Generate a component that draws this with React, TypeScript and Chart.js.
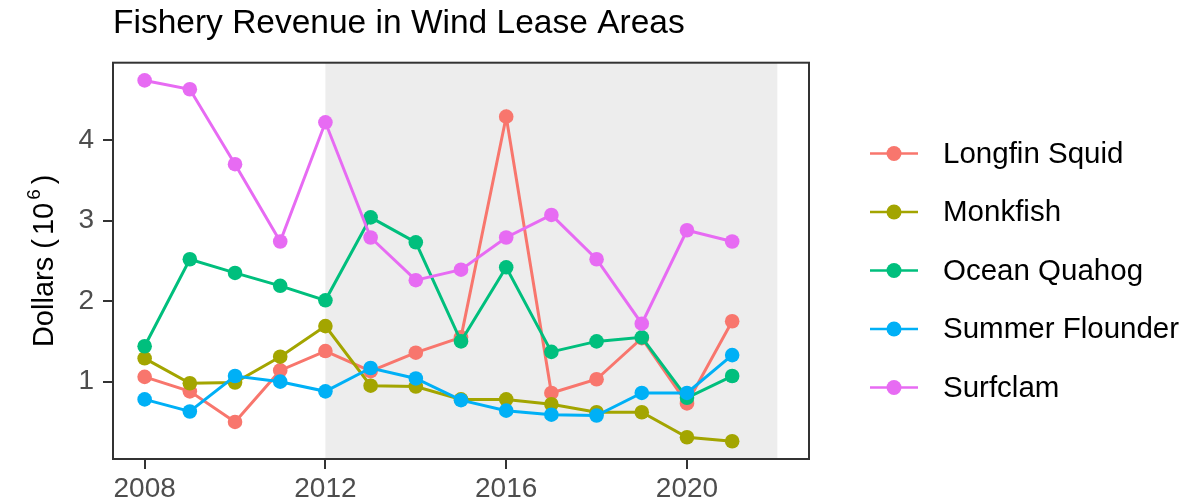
import { useEffect, useRef } from "react"
import { Chart, registerables } from "chart.js"

Chart.register(...registerables)

// Revenue in millions of dollars, one value per year
const years = [2008, 2009, 2010, 2011, 2012, 2013, 2014, 2015, 2016, 2017, 2018, 2019, 2020, 2021]
const species = ["Longfin Squid", "Monkfish", "Ocean Quahog", "Summer Flounder", "Surfclam"]
const longfinSquid = [1.06, 0.88, 0.5, 1.14, 1.38, 1.13, 1.36, 1.55, 4.29, 0.86, 1.03, 1.54, 0.73, 1.75]
const monkfish = [1.29, 0.98, 0.99, 1.31, 1.69, 0.95, 0.94, 0.78, 0.78, 0.72, 0.62, 0.62, 0.31, 0.26]
const oceanQuahog = [1.44, 2.52, 2.35, 2.19, 2.01, 3.04, 2.73, 1.5, 2.42, 1.37, 1.5, 1.55, 0.8, 1.07]
const summerFlounder = [0.78, 0.63, 1.07, 1.0, 0.88, 1.17, 1.04, 0.77, 0.64, 0.59, 0.58, 0.86, 0.86, 1.33]
const surfclam = [4.74, 4.63, 3.7, 2.74, 4.22, 2.79, 2.26, 2.39, 2.79, 3.07, 2.52, 1.72, 2.88, 2.74]
const xTicks = [2008, 2012, 2016, 2020]
const yTicks = [1, 2, 3, 4]
const leaseStart = 2012
const leaseEnd = 2022

const colors = ["#F8766D", "#A3A500", "#00BF7D", "#00B0F6", "#E76BF3"]
const FONT = "'Liberation Sans', Arial, Helvetica, sans-serif"

// grey band for lease period + panel border
const panelPlugin = {
  id: "panel",
  beforeDatasetsDraw(chart: any) {
    const { ctx, chartArea, scales } = chart
    const x0 = scales.x.getPixelForValue(leaseStart)
    const x1 = scales.x.getPixelForValue(leaseEnd)
    ctx.save()
    ctx.fillStyle = "#EDEDED"
    ctx.fillRect(x0, chartArea.top, x1 - x0, chartArea.bottom - chartArea.top)
    ctx.restore()
  },
  afterDatasetsDraw(chart: any) {
    const { ctx, chartArea } = chart
    ctx.save()
    ctx.strokeStyle = "#333333"
    ctx.lineWidth = 2
    ctx.strokeRect(chartArea.left, chartArea.top, chartArea.right - chartArea.left, chartArea.bottom - chartArea.top)
    ctx.restore()
  },
}

// y title with a real superscript, and a ggplot-like legend on the right
const sidePlugin = {
  id: "side",
  afterDraw(chart: any) {
    const { ctx, chartArea } = chart
    ctx.save()

    // Dollars (10^6)
    const main = `29px ${FONT}`
    const sup = `19px ${FONT}`
    const parts = [
      { text: "Dollars (", font: main, gap: 0, rise: 0 },
      { text: "10", font: main, gap: 4, rise: 0 },
      { text: "6", font: sup, gap: 3, rise: 13 },
      { text: ")", font: main, gap: 5, rise: 0 },
    ]
    let total = 0
    parts.forEach((p) => {
      ctx.font = p.font
      total += p.gap + ctx.measureText(p.text).width
    })
    ctx.translate(53, (chartArea.top + chartArea.bottom) / 2)
    ctx.rotate(-Math.PI / 2)
    ctx.fillStyle = "#000000"
    ctx.textAlign = "left"
    ctx.textBaseline = "alphabetic"
    let pos = -total / 2
    parts.forEach((p) => {
      ctx.font = p.font
      pos += p.gap
      ctx.fillText(p.text, pos, -p.rise)
      pos += ctx.measureText(p.text).width
    })
    ctx.setTransform(1, 0, 0, 1, 0, 0)
    ctx.restore()

    ctx.save()
    ctx.font = `29.5px ${FONT}`
    chart.data.datasets.forEach((ds: any, i: number) => {
      const y = 153.5 + i * 58.5
      ctx.strokeStyle = ds.borderColor
      ctx.lineWidth = 2.5
      ctx.beginPath()
      ctx.moveTo(870, y)
      ctx.lineTo(918, y)
      ctx.stroke()
      ctx.fillStyle = ds.borderColor
      ctx.beginPath()
      ctx.arc(894, y, 7.5, 0, Math.PI * 2)
      ctx.fill()
      ctx.fillStyle = "#000000"
      ctx.textBaseline = "middle"
      ctx.fillText(ds.label, 943, y + 1)
    })
    ctx.restore()
  },
}

export default function App() {
  const chartRef = useRef<HTMLCanvasElement>(null)
  const chartInstance = useRef<Chart | null>(null)

  useEffect(() => {
    if (!chartRef.current) return
    if (chartInstance.current) chartInstance.current.destroy()

    const series = [longfinSquid, monkfish, oceanQuahog, summerFlounder, surfclam]
    const datasets = species.map((name, i) => ({
      label: name,
      data: years.map((yr, j) => ({ x: yr, y: series[i][j] })),
      borderColor: colors[i],
      backgroundColor: colors[i],
      pointBackgroundColor: colors[i],
      pointBorderWidth: 0,
      pointRadius: 7.3,
      borderWidth: 3,
      order: species.length - i,
    }))

    chartInstance.current = new Chart(chartRef.current, {
      type: "line",
      data: { datasets },
      options: {
        responsive: true,
        maintainAspectRatio: false,
        animation: false,
        layout: { padding: { top: 0, right: 385, left: 0, bottom: 0 } },
        plugins: {
          legend: { display: false },
          title: {
            display: true,
            text: "Fishery Revenue in Wind Lease Areas",
            align: "start",
            fullSize: false,
            color: "#000000",
            font: { family: FONT, size: 33.5, weight: "normal" },
            padding: { top: 4, bottom: 18.5 },
          },
          tooltip: { enabled: false },
        },
        scales: {
          x: {
            type: "linear",
            min: 2007.3,
            max: 2022.7,
            afterBuildTicks: (scale: any) => {
              scale.ticks = xTicks.map((v) => ({ value: v }))
            },
            afterFit: (scale: any) => {
              scale.height = 43
            },
            grid: { drawOnChartArea: false, drawTicks: true, tickLength: 10, color: "#333333", lineWidth: 2 },
            border: { display: false },
            ticks: {
              padding: 3,
              color: "#4D4D4D",
              font: { family: FONT, size: 28 },
              callback: (v: any) => String(v),
            },
          },
          y: {
            type: "linear",
            min: 0.04,
            max: 4.96,
            afterBuildTicks: (scale: any) => {
              scale.ticks = yTicks.map((v) => ({ value: v }))
            },
            afterFit: (scale: any) => {
              scale.width = 113
            },
            grid: { drawOnChartArea: false, drawTicks: true, tickLength: 10, color: "#333333", lineWidth: 2 },
            border: { display: false },
            ticks: {
              padding: 9,
              color: "#4D4D4D",
              font: { family: FONT, size: 28 },
              callback: (v: any) => String(v),
            },
          },
        },
      },
      plugins: [panelPlugin, sidePlugin],
    })

    return () => {
      if (chartInstance.current) {
        chartInstance.current.destroy()
        chartInstance.current = null
      }
    }
  }, [])

  return (
    <div style={{ position: "fixed", left: 0, top: 0, width: 1194, height: 502, background: "#FFFFFF" }}>
      <canvas ref={chartRef} />
    </div>
  )
}
